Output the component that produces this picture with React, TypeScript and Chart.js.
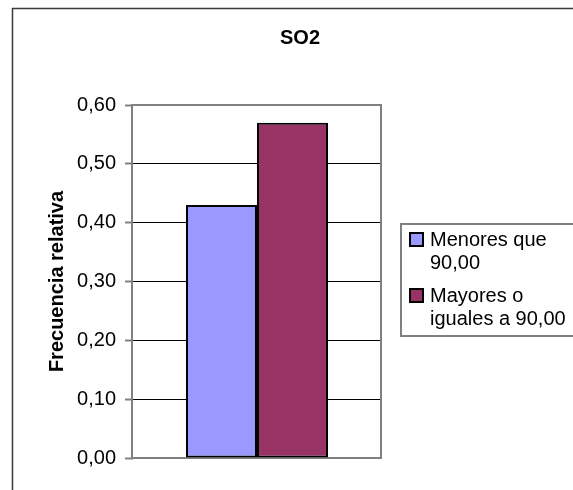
import React, { useEffect, useRef } from 'react';
import { Chart, registerables } from 'chart.js';

Chart.register(...registerables);

// ---- data ----
const categories = [''];
const seriesLabels = ['Menores que 90,00', 'Mayores o iguales a 90,00'];
const legendLines = [['Menores que', '90,00'], ['Mayores o', 'iguales a 90,00']];
const menoresValues = [0.43];
const mayoresValues = [0.57];
const seriesColors = ['#9999FF', '#993366'];
const yTickValues = [0, 0.1, 0.2, 0.3, 0.4, 0.5, 0.6];
const chartTitle = 'SO2';
const yAxisTitle = 'Frecuencia relativa';

const FONT = "Arial, 'Liberation Sans', sans-serif";

const decorPlugin = {
  id: 'decor',
  beforeDraw(chart: any) {
    const { ctx, width, height } = chart;
    ctx.save();
    ctx.fillStyle = '#ffffff';
    ctx.fillRect(0, 0, width, height);
    ctx.restore();
  },
  beforeDatasetsDraw(chart: any) {
    const { ctx, chartArea } = chart;
    ctx.save();
    ctx.strokeStyle = '#808080';
    ctx.lineWidth = 2;
    ctx.strokeRect(chartArea.left - 1, chartArea.top, chartArea.right - chartArea.left + 1, chartArea.bottom - chartArea.top);
    ctx.restore();
  },
  afterDraw(chart: any) {
    const { ctx } = chart;
    ctx.save();
    // outer frame
    ctx.strokeStyle = '#3a3a3a';
    ctx.lineWidth = 1.5;
    ctx.strokeRect(12.5, 8.5, 800, 800);
    // title
    ctx.fillStyle = '#000';
    ctx.font = `bold 20px ${FONT}`;
    ctx.textAlign = 'center';
    ctx.textBaseline = 'middle';
    ctx.fillText(chartTitle, 300, 38);
    // legend
    ctx.strokeStyle = '#808080';
    ctx.lineWidth = 2;
    ctx.strokeRect(401, 224, 300, 112);
    ctx.font = `20px ${FONT}`;
    ctx.textAlign = 'left';
    const lineYs = [[240, 263], [296, 319]];
    chart.data.datasets.forEach((ds: any, i: number) => {
      const lines = legendLines[i];
      const ys = lineYs[i];
      ctx.fillStyle = ds.backgroundColor;
      ctx.fillRect(410, ys[0] - 7, 13, 13);
      ctx.strokeStyle = '#000';
      ctx.lineWidth = 2;
      ctx.strokeRect(410, ys[0] - 7, 13, 13);
      ctx.fillStyle = '#000';
      lines.forEach((t, j) => ctx.fillText(t, 430, ys[j]));
    });
    ctx.restore();
  },
};

export default function App() {
  const canvasRef = useRef<HTMLCanvasElement | null>(null);

  useEffect(() => {
    if (!canvasRef.current) return;
    const chart = new Chart(canvasRef.current, {
      type: 'bar',
      data: {
        labels: categories,
        datasets: [
          {
            label: seriesLabels[0],
            data: menoresValues,
            backgroundColor: seriesColors[0],
            borderColor: '#000000',
            borderWidth: 2,
            borderSkipped: false,
            categoryPercentage: 0.5726,
            barPercentage: 1,
          },
          {
            label: seriesLabels[1],
            data: mayoresValues,
            backgroundColor: seriesColors[1],
            borderColor: '#000000',
            borderWidth: 2,
            borderSkipped: false,
            categoryPercentage: 0.5726,
            barPercentage: 1,
          },
        ],
      },
      options: {
        responsive: false,
        maintainAspectRatio: false,
        animation: false,
        devicePixelRatio: 1,
        layout: { padding: { left: 0, top: 105, right: 192, bottom: 32 } },
        plugins: {
          legend: { display: false },
          title: { display: false },
          tooltip: { enabled: false },
        },
        scales: {
          x: { display: false },
          y: {
            min: 0,
            max: 0.6,
            afterBuildTicks: (scale: any) => {
              scale.ticks = yTickValues.map((v) => ({ value: v }));
            },
            afterFit: (scale: any) => {
              scale.width = 133;
            },
            border: { display: false },
            grid: {
              color: (c: any) =>
                c.tick && (c.tick.value === 0 || Math.abs(c.tick.value - 0.6) < 1e-9) ? 'rgba(0,0,0,0)' : '#000000',
              lineWidth: 1,
              tickColor: '#808080',
              tickWidth: 2,
              tickLength: 8,
              drawTicks: true,
            },
            ticks: {
              padding: 9,
              color: '#000',
              font: { family: FONT, size: 20 },
              callback: (v: any) => Number(v).toFixed(2).replace('.', ','),
            },
            title: {
              display: true,
              text: yAxisTitle,
              color: '#000',
              font: { family: FONT, size: 20, weight: 'bold' },
              padding: { top: 45, bottom: 0 },
            },
          },
        },
      },
      plugins: [decorPlugin],
    });
    return () => chart.destroy();
  }, []);

  return (
    <div style={{ position: 'absolute', left: 0, top: 0, width: 573, height: 490, background: '#fff' }}>
      <canvas ref={canvasRef} width={573} height={490} style={{ display: 'block', width: 573, height: 490 }} />
    </div>
  );
}
